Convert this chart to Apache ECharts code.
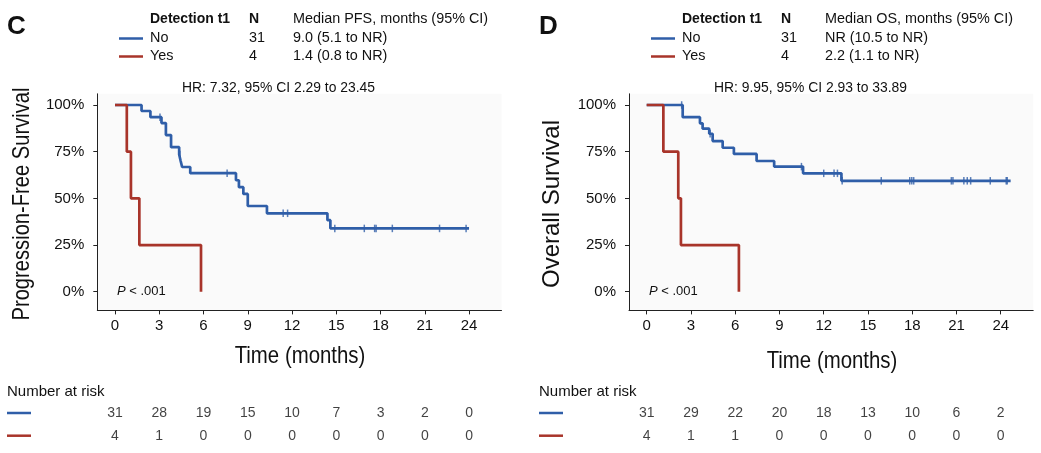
<!DOCTYPE html>
<html>
<head>
<meta charset="utf-8">
<script src="https://cdn.jsdelivr.net/npm/echarts@6/dist/echarts.min.js"></script>
<style>
  html, body { margin: 0; padding: 0; background: #fff; }
  #box { width: 1041px; height: 453px; }
</style>
</head>
<body>
<div id="box"></div>
<script>
// 时间刻度 (months)
const timeTicks = [0, 3, 6, 9, 12, 15, 18, 21, 24];
const survTicks = [0, 0.25, 0.5, 0.75, 1];

// C: PFS 曲线 [time, survival]
const pfsNo = [[0, 1], [1.8, 0.968], [2.4, 0.935], [3.15, 0.903], [3.45, 0.839], [3.8, 0.774],
  [4.35, 0.735], [4.45, 0.70], [4.55, 0.668], [5.1, 0.635], [8.2, 0.597], [8.4, 0.56],
  [8.7, 0.524], [9.0, 0.459], [10.3, 0.42], [14.4, 0.383], [14.6, 0.339], [24.0, 0.339]];
const pfsNoCensor = [[3.05, 0.935], [4.4, 0.735], [7.6, 0.635], [11.4, 0.42], [11.7, 0.42],
  [14.9, 0.339], [16.9, 0.339], [17.6, 0.339], [17.7, 0.339], [18.8, 0.339], [22.0, 0.339], [23.8, 0.339]];
const pfsYes = [[0, 1], [0.8, 0.75], [1.08, 0.5], [1.65, 0.25], [5.83, 0]];

// D: OS 曲线
const osNo = [[0, 1], [2.44, 0.935], [3.61, 0.902], [3.79, 0.873], [4.24, 0.846], [4.47, 0.807],
  [5.15, 0.771], [5.91, 0.738], [7.45, 0.70], [8.64, 0.67], [10.6, 0.634], [13.2, 0.594], [24.67, 0.594]];
const osNoCensor = [[2.37, 1], [4.3, 0.846], [10.49, 0.67], [12.0, 0.634], [12.7, 0.634], [12.93, 0.634],
  [13.25, 0.594], [15.9, 0.594], [17.83, 0.594], [17.97, 0.594], [18.1, 0.594], [20.65, 0.594],
  [20.76, 0.594], [21.5, 0.594], [21.73, 0.594], [21.96, 0.594], [23.29, 0.594], [24.37, 0.594], [24.44, 0.594]];
const osYes = [[0, 1], [1.13, 0.75], [2.14, 0.5], [2.32, 0.25], [6.25, 0]];

// Number at risk
const pfsRiskNo = [31, 28, 19, 15, 10, 7, 3, 2, 0];
const pfsRiskYes = [4, 1, 0, 0, 0, 0, 0, 0, 0];
const osRiskNo = [31, 29, 22, 20, 18, 13, 10, 6, 2];
const osRiskYes = [4, 1, 1, 0, 0, 0, 0, 0, 0];

const BLUE = '#2f5ea8';
const RED = '#a8342a';
const FONT = '"Liberation Sans", Arial, sans-serif';

let chart = echarts.init(document.getElementById('box'));

let grids = [], xAxes = [], yAxes = [], series = [], graphic = [];

// 一个面板: 曲线 + 风险表
function addPanel(p) {
  let gi = grids.length;
  grids.push({ left: p.left, top: 93.8, width: 404.2, height: 216.6,
    show: true, backgroundColor: '#fafafa', borderWidth: 0 });
  grids.push({ left: p.left, top: 402, width: 404.2, height: 45 });

  xAxes.push({
    gridIndex: gi, type: 'value', min: -1.2, max: 26.2,
    axisLine: { show: true, onZero: false, lineStyle: { color: '#222', width: 1 } },
    axisTick: { show: true, length: 4, customValues: timeTicks, lineStyle: { color: '#222' } },
    axisLabel: { customValues: timeTicks, fontSize: 15, color: '#111', margin: 8, fontFamily: FONT },
    splitLine: { show: false }
  });
  yAxes.push({
    gridIndex: gi, type: 'value', min: -0.1, max: 1.06,
    axisLine: { show: true, onZero: false, lineStyle: { color: '#222', width: 1 } },
    axisTick: { show: true, length: 4, customValues: survTicks, lineStyle: { color: '#222' } },
    axisLabel: { customValues: survTicks, fontSize: 15, color: '#111', margin: 13, fontFamily: FONT,
      formatter: v => Math.round(v * 100) + '%' },
    splitLine: { show: false }
  });
  xAxes.push({ gridIndex: gi + 1, type: 'value', min: -1.2, max: 26.2, show: false });
  yAxes.push({ gridIndex: gi + 1, type: 'value', min: 0, max: 1, show: false });

  let lineSeries = (data, color) => ({
    type: 'line', xAxisIndex: gi, yAxisIndex: gi, step: 'end', data: data,
    symbol: 'none', silent: true, animation: false,
    lineStyle: { color: color, width: 2.7 }
  });
  let censorSeries = (data, color) => ({
    type: 'scatter', xAxisIndex: gi, yAxisIndex: gi, data: data,
    symbol: 'rect', symbolSize: [1.5, 7.5], silent: true, animation: false,
    itemStyle: { color: color }
  });
  series.push(lineSeries(p.no, BLUE), censorSeries(p.noCensor, BLUE), lineSeries(p.yes, RED));

  // 风险表数字
  let riskSeries = (vals, row) => ({
    type: 'scatter', xAxisIndex: gi + 1, yAxisIndex: gi + 1,
    data: timeTicks.map((t, i) => [t, row, vals[i]]),
    symbolSize: 1, itemStyle: { color: 'transparent' }, silent: true, animation: false,
    label: { show: true, position: 'inside', formatter: q => q.value[2],
      fontSize: 14, color: '#111', fontFamily: FONT }
  });
  series.push(riskSeries(p.riskNo, 0.75), riskSeries(p.riskYes, 0.25));

  // 标题, 图例, HR, P 值
  let ox = p.ox;
  let txt = (text, x, y, extra) => ({
    type: 'text', x: x, y: y,
    style: Object.assign({ text: text, fill: '#111', font: '14.4px ' + FONT, verticalAlign: 'middle' },
      extra || {})
  });
  let seg = (x, y, color) => ({ type: 'line', shape: { x1: x, y1: y, x2: x + 24, y2: y },
    style: { stroke: color, lineWidth: 2.5 } });
  graphic.push(
    txt(p.letter, ox + 7, 27, { font: 'bold 26px ' + FONT }),
    txt('Detection t1', ox + 150, 19.5, { font: 'bold 14px ' + FONT }),
    txt('N', ox + 249, 19.5, { font: 'bold 14px ' + FONT }),
    txt(p.medianHead, ox + 293, 19.5),
    seg(ox + 119, 38.5, BLUE), txt('No', ox + 150, 38.5), txt('31', ox + 249, 38.5), txt(p.medNo, ox + 293, 38.5),
    seg(ox + 119, 56.5, RED), txt('Yes', ox + 150, 56.5), txt('4', ox + 249, 56.5), txt(p.medYes, ox + 293, 56.5),
    txt(p.hr, ox + 182, 88.5, { font: '13.9px ' + FONT }),
    { type: 'text', x: ox + 117, y: 291,
      style: { text: '{i|P} < .001', fill: '#111', font: '13px ' + FONT, verticalAlign: 'middle',
        rich: { i: { fontStyle: 'italic', fontSize: 13, fontFamily: FONT } } } },
    txt('Number at risk', ox + 7, 391.5, { font: '15px ' + FONT }),
    seg(ox + 7, 413, BLUE), seg(ox + 7, 435.7, RED),
    // 轴标题 (窄体)
    { type: 'text', x: p.yNameX, y: 204, rotation: Math.PI / 2, scaleX: p.yNameScale,
      style: { text: p.yName, fill: '#111', font: '24px ' + FONT, align: 'center', verticalAlign: 'middle' } },
    { type: 'text', x: p.xNameX, y: p.xNameY, scaleX: 0.85,
      style: { text: 'Time (months)', fill: '#111', font: '24px ' + FONT, align: 'center', verticalAlign: 'middle' } }
  );
}

addPanel({ letter: 'C', ox: 0, left: 97.3, yName: 'Progression-Free Survival', yNameX: 22, yNameScale: 0.84,
  xNameX: 300, xNameY: 356,
  no: pfsNo, noCensor: pfsNoCensor, yes: pfsYes, riskNo: pfsRiskNo, riskYes: pfsRiskYes,
  medianHead: 'Median PFS, months (95% CI)', medNo: '9.0 (5.1 to NR)', medYes: '1.4 (0.8 to NR)',
  hr: 'HR: 7.32, 95% CI 2.29 to 23.45' });
addPanel({ letter: 'D', ox: 532, left: 629, yName: 'Overall Survival', yNameX: 552, yNameScale: 1.0,
  xNameX: 832, xNameY: 361,
  no: osNo, noCensor: osNoCensor, yes: osYes, riskNo: osRiskNo, riskYes: osRiskYes,
  medianHead: 'Median OS, months (95% CI)', medNo: 'NR (10.5 to NR)', medYes: '2.2 (1.1 to NR)',
  hr: 'HR: 9.95, 95% CI 2.93 to 33.89' });

chart.setOption({
  backgroundColor: '#fff',
  animation: false,
  grid: grids,
  xAxis: xAxes,
  yAxis: yAxes,
  series: series,
  graphic: graphic
});
</script>
</body>
</html>
